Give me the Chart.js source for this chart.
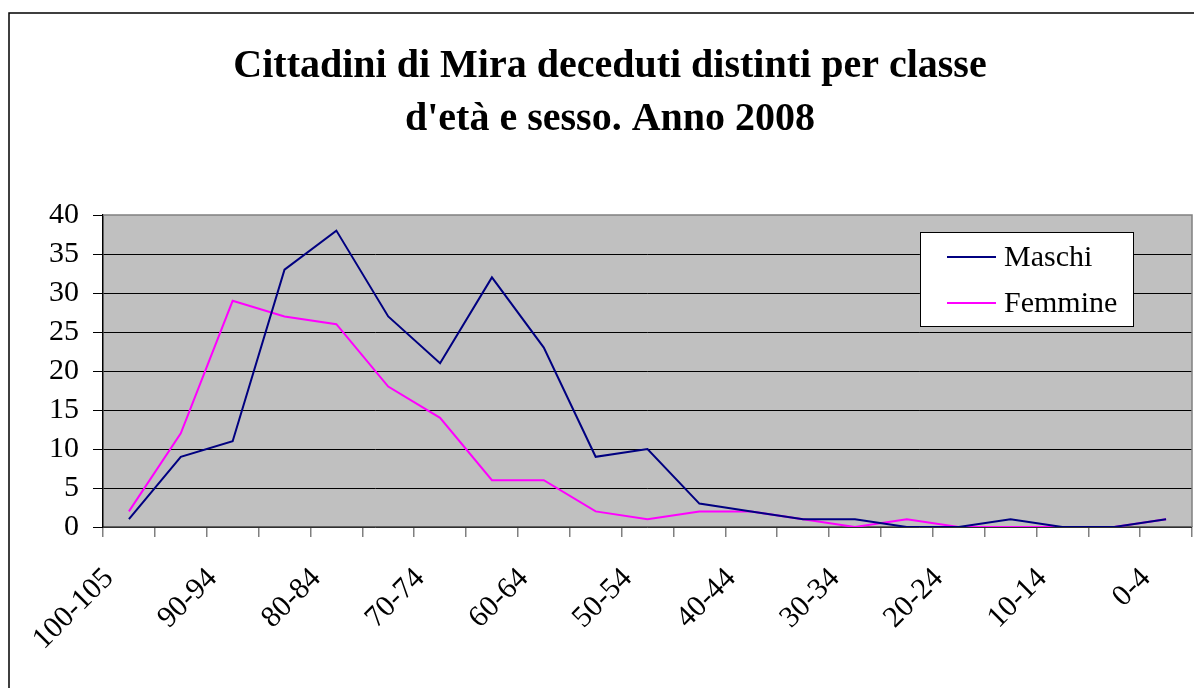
<!DOCTYPE html>
<html><head><meta charset="utf-8">
<script src="https://cdn.jsdelivr.net/npm/chart.js@4"></script>
<style>html,body{margin:0;padding:0;background:#fff;overflow:hidden;} canvas{display:block;}</style>
</head><body>
<canvas id="c" width="1194" height="688"></canvas>
<script>
const titleLines = ["Cittadini di Mira deceduti distinti per classe", "d'età e sesso. Anno 2008"];
const categories = ["100-105","95-99","90-94","85-89","80-84","75-79","70-74","65-69","60-64","55-59","50-54","45-49","40-44","35-39","30-34","25-29","20-24","15-19","10-14","5-9","0-4"];
const maschi  = [1, 9, 11, 33, 38, 27, 21, 32, 23, 9, 10, 3, 2, 1, 1, 0, 0, 1, 0, 0, 1];
const femmine = [2, 12, 29, 27, 26, 18, 14, 6, 6, 2, 1, 2, 2, 1, 0, 1, 0, 0, 0, 0, 1];
const seriesNames = ["Maschi", "Femmine"];
const yMin = 0, yMax = 40, yStep = 5;

const FONT = '"Liberation Serif", "Times New Roman", serif';

const framePlugin = {
  id: 'frame',
  beforeDraw(chart) {
    const ctx = chart.ctx, a = chart.chartArea;
    ctx.save();
    ctx.fillStyle = '#fff';
    ctx.fillRect(0, 0, chart.width, chart.height);
    ctx.strokeStyle = '#000';
    ctx.lineWidth = 1.5;
    ctx.strokeRect(9, 13, 3000, 3000);
    ctx.fillStyle = '#C0C0C0';
    ctx.fillRect(a.left, a.top, a.right - a.left, a.bottom - a.top);
    ctx.restore();
  },
  beforeDatasetsDraw(chart) {
    const ctx = chart.ctx, a = chart.chartArea;
    ctx.save();
    ctx.strokeStyle = '#808080';
    ctx.lineWidth = 1.5;
    ctx.beginPath();
    ctx.moveTo(a.left, a.top);
    ctx.lineTo(a.right, a.top);
    ctx.lineTo(a.right, a.bottom);
    ctx.stroke();
    ctx.restore();
  }
};

const legendPlugin = {
  id: 'boxLegend',
  afterDatasetsDraw(chart) {
    const ctx = chart.ctx;
    const x0 = 920, y0 = 232, w = 213, h = 94;
    ctx.save();
    ctx.fillStyle = '#fff';
    ctx.fillRect(x0, y0, w, h);
    ctx.strokeStyle = '#000';
    ctx.lineWidth = 1;
    ctx.strokeRect(x0 + 0.5, y0 + 0.5, w, h);
    chart.data.datasets.forEach((ds, i) => {
      const y = 257 + i * 46;
      ctx.strokeStyle = ds.borderColor;
      ctx.lineWidth = 2;
      ctx.beginPath();
      ctx.moveTo(947, y);
      ctx.lineTo(996, y);
      ctx.stroke();
      ctx.fillStyle = '#000';
      ctx.font = '30px ' + FONT;
      ctx.textBaseline = 'middle';
      ctx.textAlign = 'left';
      ctx.fillText(ds.label, 1004, y + 1);
    });
    ctx.restore();
  }
};

new Chart(document.getElementById('c'), {
  type: 'line',
  data: {
    labels: categories,
    datasets: [
      { label: seriesNames[0], data: maschi, borderColor: '#000080', backgroundColor: '#000080', borderWidth: 2, pointRadius: 0, tension: 0, fill: false },
      { label: seriesNames[1], data: femmine, borderColor: '#FF00FF', backgroundColor: '#FF00FF', borderWidth: 2, pointRadius: 0, tension: 0, fill: false }
    ]
  },
  options: {
    responsive: false,
    animation: false,
    events: [],
    layout: { padding: { left: 28, right: 2, top: 0, bottom: 0 } },
    plugins: {
      legend: { display: false },
      tooltip: { enabled: false },
      title: {
        display: true,
        text: titleLines,
        color: '#000',
        font: { family: FONT, size: 40, weight: 'bold', lineHeight: 1.325 },
        padding: { top: 40, bottom: 69 }
      }
    },
    scales: {
      x: {
        offset: true,
        grid: { display: true, drawOnChartArea: false, drawTicks: true, tickLength: 10, offset: true, color: '#808080', lineWidth: 1.5 },
        border: { display: true, color: '#606060', width: 1.5 },
        ticks: {
          autoSkip: false, minRotation: 45, maxRotation: 45, padding: 24, labelOffset: -20,
          color: '#000', font: { family: FONT, size: 30 },
          callback: (v, i) => (i % 2 === 0 ? categories[i] : '')
        },
        afterFit: (s) => { s.height = 161; s.paddingLeft = 0; s.paddingRight = 0; }
      },
      y: {
        min: yMin, max: yMax,
        grid: {
          color: (c) => (c.tick && c.tick.value === yMax ? 'rgba(0,0,0,0)' : '#000'),
          tickColor: '#000', lineWidth: 1, tickLength: 10, drawTicks: true
        },
        border: { display: true, color: '#000', width: 1.5 },
        ticks: { stepSize: yStep, padding: 14, color: '#000', font: { family: FONT, size: 30 } },
        afterFit: (s) => { s.width = 75; }
      }
    }
  },
  plugins: [framePlugin, legendPlugin]
});
</script>
</body></html>
